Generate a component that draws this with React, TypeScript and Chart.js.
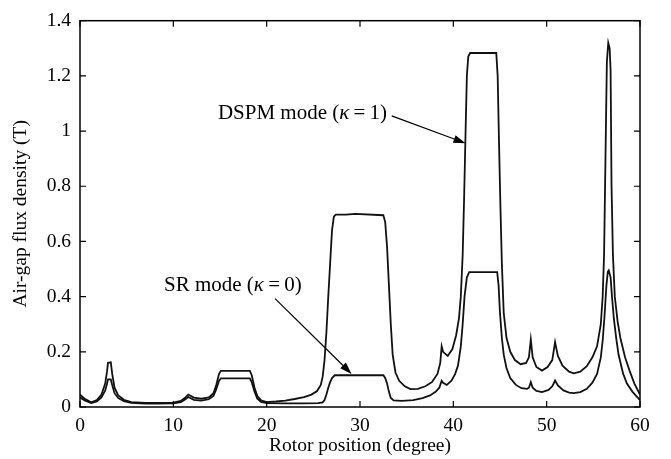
import React, { useEffect, useRef } from "react";
import { Chart, registerables } from "chart.js";

Chart.register(...registerables);

// ---- data ----
const dspmX = [0, 0.5, 1.2, 1.8, 2.3, 2.7, 2.9, 3.0, 3.3, 3.45, 3.7, 4.1, 4.7, 5.5, 7, 8.5, 10, 10.8, 11.3, 11.6, 12.2, 13, 13.8, 14.3, 14.6, 14.9, 15.1, 18.2, 18.4, 18.7, 19.0, 19.4, 20, 21, 22, 23, 24, 24.8, 25.4, 25.8, 26.0, 26.2, 26.4, 26.6, 26.8, 27.0, 27.2, 27.4, 28.5, 29.5, 32.5, 32.7, 32.9, 33.1, 33.3, 33.5, 33.8, 34.2, 34.8, 35.4, 36.2, 37.0, 37.7, 38.3, 38.6, 38.75, 38.9, 39.4, 39.9, 40.3, 40.6, 40.8, 41.0, 41.15, 41.3, 41.45, 41.6, 41.8, 44.6, 44.75, 44.9, 45.05, 45.2, 45.4, 45.7, 46.1, 46.6, 47.2, 47.8, 48.1, 48.3, 48.5, 48.9, 49.5, 50.1, 50.6, 50.9, 51.2, 51.7, 52.4, 52.9, 53.6, 54.3, 54.9, 55.4, 55.8, 56.0, 56.15, 56.3, 56.45, 56.6, 56.75, 56.85, 56.95, 57.1, 57.3, 57.6, 57.9, 58.4, 58.9, 59.4, 60];
const dspmY = [0.045, 0.03, 0.017, 0.025, 0.045, 0.085, 0.13, 0.16, 0.162, 0.12, 0.07, 0.042, 0.026, 0.018, 0.015, 0.015, 0.016, 0.022, 0.035, 0.045, 0.034, 0.03, 0.035, 0.05, 0.08, 0.12, 0.131, 0.131, 0.115, 0.07, 0.04, 0.024, 0.018, 0.02, 0.023, 0.029, 0.036, 0.045, 0.058, 0.08, 0.11, 0.17, 0.27, 0.4, 0.52, 0.64, 0.69, 0.697, 0.697, 0.7, 0.695, 0.67, 0.58, 0.44, 0.3, 0.19, 0.125, 0.095, 0.075, 0.065, 0.066, 0.075, 0.09, 0.12, 0.16, 0.22, 0.2, 0.185, 0.21, 0.26, 0.32, 0.4, 0.55, 0.75, 0.98, 1.2, 1.27, 1.283, 1.283, 1.2, 0.95, 0.72, 0.52, 0.34, 0.25, 0.2, 0.17, 0.155, 0.16, 0.18, 0.245, 0.18, 0.145, 0.132, 0.145, 0.17, 0.235, 0.185, 0.15, 0.128, 0.122, 0.128, 0.148, 0.18, 0.22, 0.3, 0.4, 0.55, 0.9, 1.25, 1.32, 1.3, 1.22, 0.8, 0.55, 0.4, 0.31, 0.25, 0.18, 0.13, 0.085, 0.045];

const srX = [0, 0.5, 1.2, 1.8, 2.3, 2.7, 2.9, 3.0, 3.3, 3.45, 3.7, 4.1, 4.7, 5.5, 7, 8.5, 10, 10.8, 11.3, 11.6, 12.2, 13, 13.8, 14.3, 14.6, 14.9, 15.1, 18.2, 18.4, 18.7, 19.0, 19.4, 20, 22, 24, 25.5, 26.0, 26.2, 26.4, 26.6, 26.8, 27.0, 27.3, 32.5, 32.7, 32.9, 33.1, 33.3, 33.6, 34.5, 35.7, 36.7, 37.5, 38.1, 38.5, 38.75, 38.9, 39.3, 39.8, 40.2, 40.5, 40.8, 41.0, 41.2, 41.45, 41.7, 44.7, 44.85, 45.0, 45.2, 45.4, 45.7, 46.1, 46.7, 47.3, 47.9, 48.1, 48.3, 48.5, 48.9, 49.5, 50.2, 50.6, 50.9, 51.2, 51.8, 52.4, 52.9, 53.6, 54.3, 54.9, 55.4, 55.8, 56.0, 56.2, 56.4, 56.55, 56.65, 56.85, 57.0, 57.2, 57.45, 57.7, 58.2, 58.6, 59.2, 60];
const srY = [0.035, 0.024, 0.014, 0.02, 0.035, 0.06, 0.085, 0.1, 0.1, 0.08, 0.05, 0.032, 0.021, 0.015, 0.012, 0.012, 0.013, 0.018, 0.028, 0.036, 0.026, 0.023, 0.028, 0.04, 0.065, 0.095, 0.104, 0.104, 0.09, 0.055, 0.03, 0.018, 0.014, 0.013, 0.013, 0.014, 0.017, 0.025, 0.045, 0.07, 0.09, 0.105, 0.115, 0.115, 0.105, 0.085, 0.055, 0.033, 0.024, 0.022, 0.025, 0.032, 0.042, 0.055, 0.07, 0.095, 0.088, 0.08, 0.095, 0.12, 0.15, 0.22, 0.3, 0.4, 0.47, 0.489, 0.489, 0.44, 0.34, 0.25, 0.19, 0.14, 0.105, 0.08, 0.068, 0.066, 0.07, 0.09, 0.07, 0.058, 0.054, 0.062, 0.075, 0.096, 0.078, 0.06, 0.052, 0.05, 0.054, 0.066, 0.088, 0.12, 0.18, 0.24, 0.33, 0.44, 0.49, 0.495, 0.47, 0.4, 0.32, 0.25, 0.19, 0.12, 0.085, 0.055, 0.025];

const xTicks = [0, 10, 20, 30, 40, 50, 60];
const xTickLabels = ["0", "10", "20", "30", "40", "50", "60"];
const yTicks = [0, 0.2, 0.4, 0.6, 0.8, 1.0, 1.2, 1.4];
const yTickLabels = ["0", "0.2", "0.4", "0.6", "0.8", "1", "1.2", "1.4"];

const xTitle = "Rotor position (degree)";
const yTitle = "Air-gap flux density (T)";

// annotation text pieces: [text, italic]
const dspmLabel: [string, boolean][] = [["DSPM mode (", false], ["\u03BA", true], ["\u2009=\u20091)", false]];
const srLabel: [string, boolean][] = [["SR mode (", false], ["\u03BA", true], ["\u2009=\u20090)", false]];

// annotation anchors in data units: text right end & baseline, arrow start, arrow tip
const annotations = [
  { parts: dspmLabel, right: [32.9, 1.042], from: [33.4, 1.055], to: [41.3, 0.956] },
  { parts: srLabel, right: [23.75, 0.422], from: [20.9, 0.393], to: [29.1, 0.12] },
];

const FAMILY = '"Liberation Serif", "Times New Roman", serif';
const TICK_FONT = { family: FAMILY, size: 19.5 };
const TITLE_FONT = { family: FAMILY, size: 19.5 };
const ANN_SIZE = 21;

const framePlugin = {
  id: "frame",
  afterDatasetsDraw(chart: any) {
    const { ctx, chartArea } = chart;
    const xs = chart.scales.x;
    const ys = chart.scales.y;
    const { left, right, top, bottom } = chartArea;
    ctx.save();
    ctx.strokeStyle = "#000";
    ctx.lineWidth = 1.5;
    ctx.strokeRect(left, top, right - left, bottom - top);
    const tl = 6;
    ctx.beginPath();
    xTicks.forEach((v) => {
      const px = xs.getPixelForValue(v);
      ctx.moveTo(px, bottom);
      ctx.lineTo(px, bottom - tl);
      ctx.moveTo(px, top);
      ctx.lineTo(px, top + tl);
    });
    yTicks.forEach((v) => {
      const py = ys.getPixelForValue(v);
      ctx.moveTo(left, py);
      ctx.lineTo(left + tl, py);
      ctx.moveTo(right, py);
      ctx.lineTo(right - tl, py);
    });
    ctx.lineWidth = 1.2;
    ctx.stroke();

    // annotations
    annotations.forEach((a) => {
      ctx.fillStyle = "#000";
      ctx.textBaseline = "alphabetic";
      ctx.textAlign = "left";
      const widths = a.parts.map(([t, it]) => {
        ctx.font = `${it ? "italic " : ""}${ANN_SIZE}px ${FAMILY}`;
        return ctx.measureText(t).width;
      });
      const total = widths.reduce((s, w) => s + w, 0);
      let x = xs.getPixelForValue(a.right[0]) - total;
      const y = ys.getPixelForValue(a.right[1]);
      a.parts.forEach(([t, it], i) => {
        ctx.font = `${it ? "italic " : ""}${ANN_SIZE}px ${FAMILY}`;
        ctx.fillText(t, x, y);
        x += widths[i];
      });
      const x0 = xs.getPixelForValue(a.from[0]);
      const y0 = ys.getPixelForValue(a.from[1]);
      const x1 = xs.getPixelForValue(a.to[0]);
      const y1 = ys.getPixelForValue(a.to[1]);
      const ang = Math.atan2(y1 - y0, x1 - x0);
      const hl = 12;
      const hw = 4;
      const bx = x1 - hl * Math.cos(ang);
      const by = y1 - hl * Math.sin(ang);
      ctx.strokeStyle = "#000";
      ctx.lineWidth = 1.2;
      ctx.beginPath();
      ctx.moveTo(x0, y0);
      ctx.lineTo(bx, by);
      ctx.stroke();
      ctx.beginPath();
      ctx.moveTo(x1, y1);
      ctx.lineTo(bx + hw * Math.sin(ang), by - hw * Math.cos(ang));
      ctx.lineTo(bx - hw * Math.sin(ang), by + hw * Math.cos(ang));
      ctx.closePath();
      ctx.fill();
    });
    ctx.restore();
  },
};

export default function App() {
  const ref = useRef<HTMLCanvasElement>(null);
  useEffect(() => {
    if (!ref.current) return;
    const chart = new Chart(ref.current, {
      type: "line",
      data: {
        datasets: [
          {
            label: "DSPM mode",
            data: dspmX.map((x, i) => ({ x, y: dspmY[i] })),
            borderColor: "#111",
            borderWidth: 1.8,
            pointRadius: 0,
            tension: 0,
            fill: false,
          },
          {
            label: "SR mode",
            data: srX.map((x, i) => ({ x, y: srY[i] })),
            borderColor: "#111",
            borderWidth: 1.8,
            pointRadius: 0,
            tension: 0,
            fill: false,
          },
        ],
      },
      options: {
        responsive: false,
        animation: false,
        events: [],
        layout: { padding: { left: 0, right: 31, top: 12, bottom: 0 } },
        plugins: { legend: { display: false }, tooltip: { enabled: false } },
        scales: {
          x: {
            type: "linear",
            min: 0,
            max: 60,
            afterBuildTicks: (s: any) => {
              s.ticks = xTicks.map((v) => ({ value: v }));
            },
            afterFit: (s: any) => {
              s.height = 52;
            },
            grid: { display: false, drawTicks: false },
            border: { display: false },
            ticks: {
              padding: 7,
              font: TICK_FONT,
              color: "#000",
              maxRotation: 0,
              autoSkip: false,
              callback: (_v: any, i: number) => xTickLabels[i],
            },
            title: {
              display: true,
              text: xTitle,
              font: TITLE_FONT,
              color: "#000",
              padding: { top: 0, bottom: 1 },
            },
          },
          y: {
            type: "linear",
            min: 0,
            max: 1.4,
            afterBuildTicks: (s: any) => {
              s.ticks = yTicks.map((v) => ({ value: v }));
            },
            afterFit: (s: any) => {
              s.width = 80;
            },
            grid: { display: false, drawTicks: false },
            border: { display: false },
            ticks: {
              padding: 9,
              font: TICK_FONT,
              color: "#000",
              autoSkip: false,
              callback: (_v: any, i: number) => yTickLabels[i],
            },
            title: {
              display: true,
              text: yTitle,
              font: TITLE_FONT,
              color: "#000",
              padding: { top: 9, bottom: 0 },
            },
          },
        },
      },
      plugins: [framePlugin],
    } as any);
    return () => chart.destroy();
  }, []);
  return (
    <div style={{ position: "fixed", left: 0, top: 0, width: 671, height: 459, background: "#fff" }}>
      <canvas ref={ref} width={671} height={459} style={{ display: "block" }} />
    </div>
  );
}
